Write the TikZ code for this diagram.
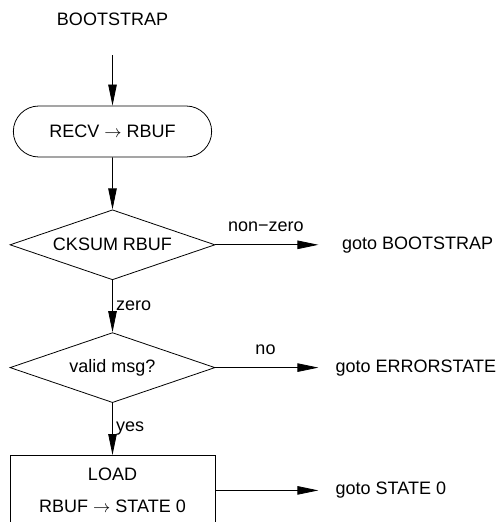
\documentclass[tikz,border=0pt]{standalone}
\usepackage{fontspec}
\setmainfont{Liberation Sans}
\usetikzlibrary{shapes.geometric, shapes.misc, chains, positioning, arrows.meta}

\begin{document}
\begin{tikzpicture}[x=1pt, y=1pt,
      every node/.style={font=\fontsize{18pt}{22pt}\selectfont},
      term/.style={
        rounded rectangle,
        draw,
        minimum width=205pt,
        minimum height=51pt
      },
      test/.style={
        diamond,
        draw,
        shape aspect=2.9,
        inner sep=0pt,
        minimum width=205pt,
        minimum height=70pt
      },
      action/.style={
        rectangle,
        draw,
        align=center,
        minimum width=205pt,
        minimum height=70pt
      },
      line width=0.8pt,
      >={Triangle[length=21pt,width=8.5pt]},
      node distance=52pt,
      start chain=going below]

    \useasboundingbox (0,0) rectangle (500,-522);

    \node (boot) at (112.5,-19) {BOOTSTRAP};
    \node[term,on chain] (recv) at (112.5,-131.5) {RECV $\rightarrow$ RBUF};
    \node[test,on chain] (cksum) {CKSUM RBUF};
    \node[test,on chain] (valid) {valid msg?};
    \node[action,on chain] (load) {LOAD\\[10pt]RBUF $\rightarrow$ STATE 0};

    \node[right=123pt of cksum] (gboot) {goto BOOTSTRAP};
    \node[right=116.5pt of valid] (gerr) {goto ERRORSTATE};
    \node[right=116.5pt of load] (gload) {goto STATE 0};

    \draw[->, shorten <=26pt] (boot) -- (recv);
    \draw[->] (recv) -- (cksum);
    \draw[->] (cksum) -- node[right] {zero} (valid);
    \draw[->] (valid) -- node[right] {yes} (load);
    \draw[->, shorten >=20pt] (cksum) -- node[pos=0.41, above=9pt] {non−zero} (gboot);
    \draw[->, shorten >=13.5pt] (valid) -- node[pos=0.43, above=9pt] {no} (gerr);
    \draw[->, shorten >=13.5pt] (load) -- (gload);
  \end{tikzpicture}
\end{document}
